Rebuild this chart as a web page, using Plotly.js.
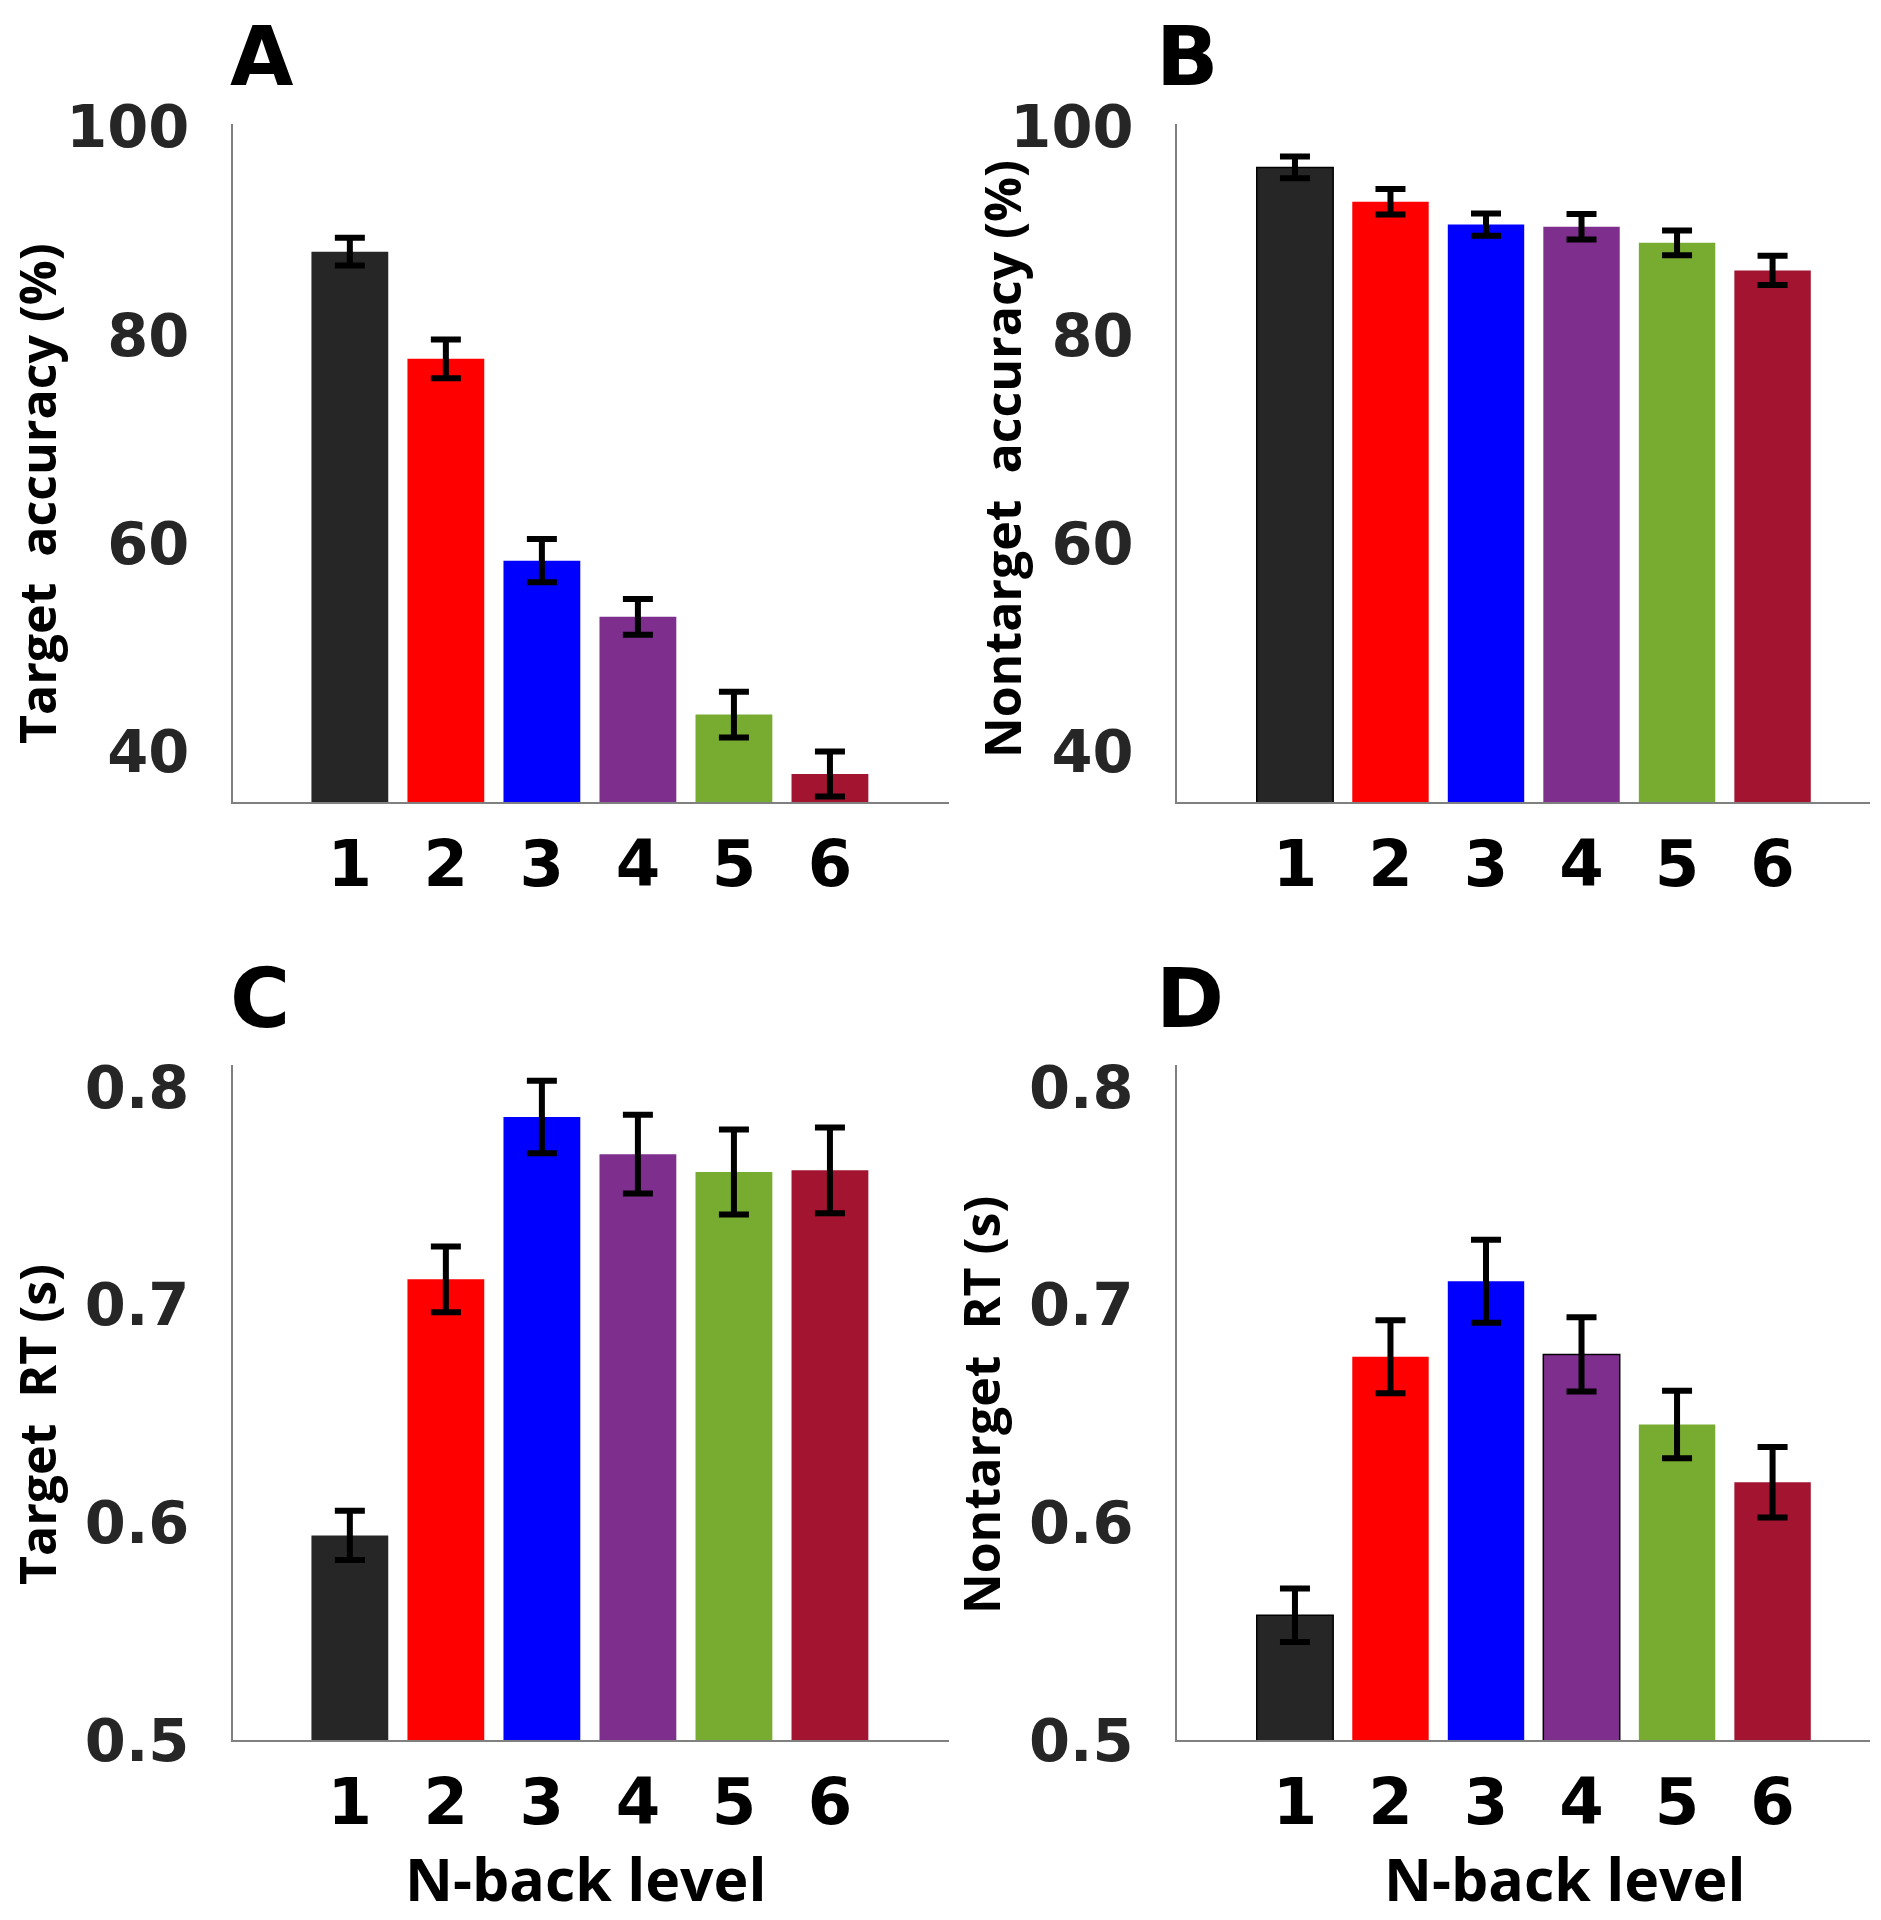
<!DOCTYPE html>
<html>
<head>
<meta charset="utf-8">
<script src="https://cdn.plot.ly/plotly-3.0.1.min.js"></script>
<style>html,body{margin:0;padding:0;background:#fff;}#chart{width:1881px;height:1920px;}</style>
</head>
<body>
<div id="chart"></div>
<script>
// ---- data ----
const nbackLevels = [1, 2, 3, 4, 5, 6];
const tickLabels = ["1", "2", "3", "4", "5", "6"];
const targetAcc = [88.0, 77.7, 58.3, 52.9, 43.5, 37.8];
const targetAccErr = [1.33, 1.86, 2.08, 1.72, 2.2, 2.16];
const nontargetAcc = [96.1, 92.8, 90.6, 90.4, 88.85, 86.2];
const nontargetAccErr = [1.05, 1.22, 1.08, 1.22, 1.19, 1.41];
const targetRT = [0.594, 0.7117, 0.7863, 0.7692, 0.761, 0.7618];
const targetRTErr = [0.0113, 0.0151, 0.0167, 0.0181, 0.0195, 0.0197];
const nontargetRT = [0.5573, 0.6761, 0.7108, 0.6772, 0.645, 0.6185];
const nontargetRTErr = [0.0123, 0.0168, 0.0191, 0.0171, 0.0155, 0.0162];
const accTicks = [40, 60, 80, 100];
const rtTicks = [0.5, 0.6, 0.7, 0.8];
const accTickText = ["40", "60", "80", "100"];
const rtTickText = ["0.5", "0.6", "0.7", "0.8"];
const barColors = ["#262626", "#ff0000", "#0000ff", "#7e2f8e", "#77ac30", "#a2142f"];

// ---- layout helpers ----
const W = 1881, H = 1920;
const px = v => v / W;
const py = v => 1 - v / H;

function barTrace(y, err, xa, ya, outlines) {
  return {
    type: "bar",
    x: nbackLevels,
    y: y,
    xaxis: xa,
    yaxis: ya,
    width: 0.8,
    marker: {
      color: barColors,
      line: { color: "#000", width: outlines }
    },
    error_y: { type: "data", array: err, visible: true, color: "#000", thickness: 6, width: 15 },
    showlegend: false,
    hoverinfo: "none"
  };
}

const data = [
  barTrace(targetAcc, targetAccErr, "x", "y", [0, 0, 0, 0, 0, 0]),
  barTrace(nontargetAcc, nontargetAccErr, "x2", "y2", [1.5, 0, 0, 0, 0, 0]),
  barTrace(targetRT, targetRTErr, "x3", "y3", [0, 0, 0, 0, 0, 0]),
  barTrace(nontargetRT, nontargetRTErr, "x4", "y4", [1.5, 0, 0, 1.5, 0, 0])
];

const tickFontY = { family: "DejaVu Sans", size: 59, color: "#262626", weight: "bold" };
const tickFontX = { family: "DejaVu Sans", size: 64, color: "#000", weight: "bold" };

function xAxis(domain, anchor, range) {
  return {
    domain: domain, anchor: anchor, range: range,
    tickmode: "array", tickvals: nbackLevels, ticktext: tickLabels,
    showgrid: false, zeroline: false, showline: true, linecolor: "#808080", linewidth: 1.5,
    ticks: "", tickfont: tickFontX, ticklabelstandoff: 6, fixedrange: true
  };
}
function yAxis(domain, anchor, range, vals, text) {
  return {
    domain: domain, anchor: anchor, range: range,
    tickmode: "array", tickvals: vals, ticktext: text,
    showgrid: false, zeroline: false, showline: true, linecolor: "#808080", linewidth: 1.5,
    ticks: "", tickfont: tickFontY, ticklabelstandoff: 30, fixedrange: true
  };
}

const xLeft = [px(232.7), px(949)];
const xRight = [px(1176.8), px(1870)];
const yTop = [py(802), py(123.7)];
const yBot = [py(1740), py(1065.4)];

const titleFont = { family: "Open Sans", size: 50, color: "#000", weight: "bold" };
const xTitleFont = { family: "Open Sans", size: 59, color: "#000", weight: "bold" };
const letterFont = { family: "DejaVu Sans", size: 82, color: "#000", weight: "bold" };

function ann(text, x, y, font, angle, xanchor) {
  return {
    text: text, xref: "paper", yref: "paper", x: px(x), y: py(y),
    xanchor: xanchor || "center", yanchor: "middle", showarrow: false,
    font: font, textangle: angle || 0
  };
}

const layout = {
  width: W, height: H,
  margin: { l: 0, r: 0, t: 0, b: 0 },
  paper_bgcolor: "#fff", plot_bgcolor: "#fff",
  bargap: 0.2,
  xaxis: xAxis(xLeft, "y", [-0.22, 7.24]),
  yaxis: yAxis(yTop, "x", [35.1, 100.3], accTicks, accTickText),
  xaxis2: xAxis(xRight, "y2", [-0.237, 7.02]),
  yaxis2: yAxis(yTop, "x2", [35.1, 100.3], accTicks, accTickText),
  xaxis3: xAxis(xLeft, "y3", [-0.22, 7.24]),
  yaxis3: yAxis(yBot, "x3", [0.5, 0.81], rtTicks, rtTickText),
  xaxis4: xAxis(xRight, "y4", [-0.237, 7.02]),
  yaxis4: yAxis(yBot, "x4", [0.5, 0.81], rtTicks, rtTickText),
  annotations: [
    ann("A", 228, 56, letterFont, 0, "left"),
    ann("B", 1154, 56, letterFont, 0, "left"),
    ann("C", 228, 999, letterFont, 0, "left"),
    ann("D", 1154, 999, letterFont, 0, "left"),
    ann("Target  accuracy (%)", 37, 494, titleFont, -90),
    ann("Nontarget  accuracy (%)", 1002, 459, titleFont, -90),
    ann("Target  RT (s)", 37, 1425, titleFont, -90),
    ann("Nontarget  RT (s)", 981, 1405, titleFont, -90),
    ann("N-back level", 585, 1878, xTitleFont, 0),
    ann("N-back level", 1564, 1878, xTitleFont, 0)
  ]
};

Plotly.newPlot("chart", data, layout, { displayModeBar: false, staticPlot: true });
</script>
</body>
</html>
